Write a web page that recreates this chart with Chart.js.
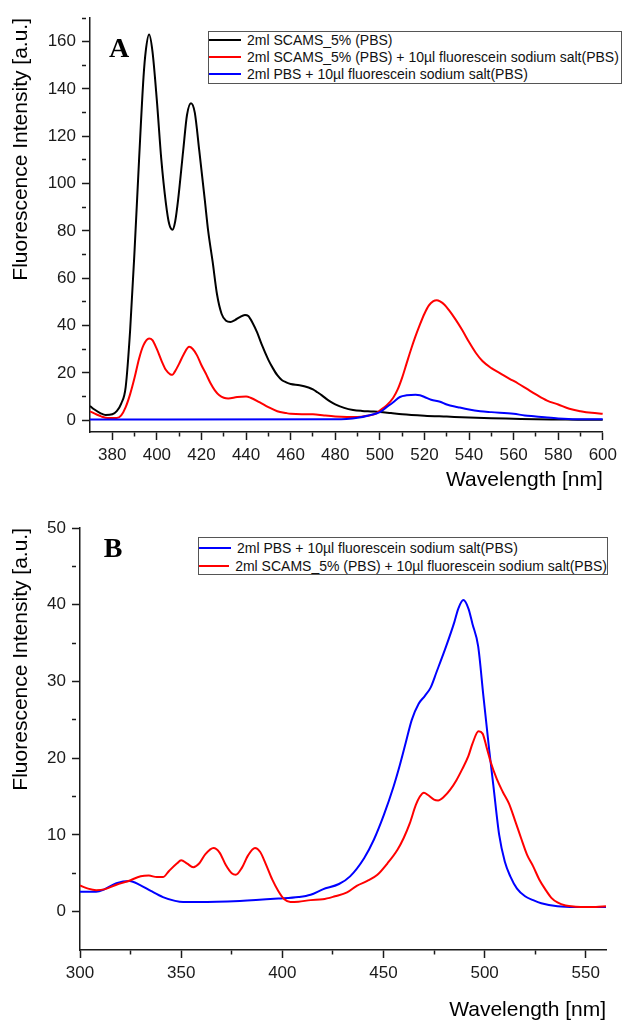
<!DOCTYPE html>
<html lang="en">
<head>
<meta charset="UTF-8">
<title>Fluorescence spectra</title>
<script src="https://cdn.jsdelivr.net/npm/chart.js"></script>
<style>
    body {
        margin: 0;
        background: #fff;
        font-family: Arial, "Liberation Sans", sans-serif;
    }
    .panel {
        position: absolute;
        left: 0;
        width: 622px;
    }
    #panelA { top: 0; height: 500px; }
    #panelB { top: 500px; height: 523px; }
    .legend {
        position: absolute;
        box-sizing: border-box;
        border: 1px solid #555;
        background: #fff;
        font-size: 14px;
        color: #111;
    }
    .legend .row {
        display: flex;
        align-items: center;
        white-space: nowrap;
    }
    .legend .swatch {
        display: inline-block;
        width: 32px;
        height: 2px;
        margin-right: 6px;
    }
    #legendA { left: 208px; top: 31px; width: 414px; height: 53px; padding-top: 0; }
    #legendA .row { height: 16.7px; }
    #legendB { left: 198px; top: 37px; width: 410px; height: 38px; padding-top: 1px; }
    #legendB .row { height: 18px; }
</style>
</head>
<body>

<div class="panel" id="panelA">
    <canvas id="chartA" width="622" height="500"></canvas>
    <div class="legend" id="legendA"></div>
</div>
<div class="panel" id="panelB">
    <canvas id="chartB" width="622" height="523"></canvas>
    <div class="legend" id="legendB"></div>
</div>

<script>
// ---------- panel A data ----------
const scamsWlA = [370,372,375,377,380,382,384,386,388,390,392,394,395,396.5,398,400,402,404,405.5,407,408.2,409.5,411.8,413.5,415.3,417,419,421.5,423,425,427,429,431,433,435,437,439.5,441,443,445,447,450,452,454,456,458,460,464,468,470,472,474,476,478,480,484,488,492,496,500,505,510,520,530,540,550,560,570,580,590,600];
const scamsIntA = [6,4.5,2.8,2.2,2.5,3.8,7,14,38,72,110,145,156,163,156,135,110,92,83,80.5,84,93,114,129,134,130,114,93,80,67,53,45,42,41.5,42.3,43.5,44.5,44,41,37,32,25.5,22,19,17,16,15.3,14.8,13.8,13,11.8,10.5,9,7.7,6.7,5.2,4.3,3.9,3.7,3.5,3,2.5,1.9,1.5,1.1,0.8,0.6,0.4,0.3,0.2,0.2];

const mixWlA = [370,373,375,378,382,384,386,388,390,392,394,396.5,398,400,402,404,406,407,408,410,412,414.5,416,418,420,422,424,426,428,430,432,436,440,442,446,450,454,458,460,465,470,475,480,490,495,498,500,503,506,508,510,512,514,516,518,520,522,524,525.5,527,529,531,534,537,540,543,546,550,554,558,562,566,570,575,580,585,590,595,600];
const mixIntA = [3.7,2.4,1.6,0.9,0.9,2,5.5,11,18,26,31.7,34.5,33.8,30,25.3,21.3,19.4,19.2,20.4,23.9,27.8,31,30.2,27.4,23.2,19.6,15.7,12.6,10.5,9.5,9.2,9.8,10,9.5,7.6,5.5,3.8,3,2.7,2.5,2.5,2,1.6,1.3,2,2.7,4.1,6.2,9.5,13,18,24,30,35.5,40.5,45,48.5,50.3,50.7,50.2,48.8,46.5,42.5,38,33,28.5,25,22,19.8,17.6,15.5,13.2,10.9,8.3,6.6,4.8,3.8,3.1,2.7];

const pbsWlA = [370,480,485,490,495,500,503,506,509,512,516,518,520,523,527,530,535,540,545,550,560,565,570,575,580,588,600];
const pbsIntA = [0.3,0.35,0.5,1,2,3.4,5.5,7.6,9.8,10.5,10.7,10.5,9.8,8.6,7.8,6.6,5.5,4.5,3.8,3.4,2.7,2,1.6,1.1,0.7,0.4,0.4];

const xMajorA = [380,400,420,440,460,480,500,520,540,560,580,600];
const xMinorA = [390,410,430,450,470,490,510,530,550,570,590];
const yMajorA = [0,20,40,60,80,100,120,140,160];
const yMinorA = [10,30,50,70,90,110,130,150,170];

// ---------- panel B data ----------
const pbsWlB = [300,308,312,318,324.5,329.5,335,341,347,351,359,379,398,408,414,420,428,433.5,440.5,445.3,450.2,455,458,461,464,467.4,470.4,473.3,476.2,481,485,487,489.5,492,494,496.8,499.4,502.3,504.3,507.2,510,512.7,516,520,524,528,536,545,560];
const pbsIntB = [2.6,2.6,2.9,3.7,4.0,3.5,2.7,1.9,1.4,1.25,1.25,1.4,1.7,1.9,2.2,2.9,3.6,4.6,7.0,9.4,12.6,16.3,19,22,25,27.1,28.1,29.2,31.2,34.6,37.7,39.5,40.6,39.5,37.5,34.6,28.1,21,16.5,10,6.5,4.6,3,2,1.5,1.1,0.7,0.6,0.6];

const mixWlB = [300,304,308,312,318,324,330,334,338,341,344,348,350,353,356,359,362,366,369,372,375,377,380,383,386.5,389,392,395,398,401,404,408,414,420,426,432,437,442,447,452,457,460,463,466,468,470,472,475,477,480,483,486,489,492,494,497,499,501,503,506,509,512,515,518,521,524,527,530,533,536,540,545,550,555,560];
const mixIntB = [3.4,3.0,2.8,2.9,3.5,4.0,4.6,4.7,4.5,4.5,5.3,6.3,6.7,6.25,5.8,6.3,7.5,8.3,7.7,6.1,5.0,4.8,5.7,7.3,8.3,7.8,6.1,4.2,2.7,1.6,1.25,1.3,1.5,1.6,2.0,2.5,3.4,4.0,4.8,6.3,8.1,9.6,11.5,13.9,15.0,15.5,15.2,14.6,14.5,15.0,15.9,17.1,18.6,20.3,21.9,23.5,23.2,21.4,19.5,17.3,15.6,14.1,11.9,9.6,7.4,5.9,4.2,2.9,1.8,1.2,0.8,0.65,0.6,0.6,0.7];

const xMajorB = [300,350,400,450,500,550];
const xMinorB = [325,375,425,475,525];
const yMajorB = [0,10,20,30,40,50];
const yMinorB = [5,15,25,35,45];

const labelScams = '2ml SCAMS_5% (PBS)';
const labelMix = '2ml SCAMS_5% (PBS) + 10\u00b5l fluorescein sodium salt(PBS)';
const labelPbs = '2ml PBS + 10\u00b5l fluorescein sodium salt(PBS)';

const BLACK = '#000000', RED = '#ff0000', BLUE = '#0000ff';
const TEXT = '#1a1a1a';

function points(xs, ys) {
    return xs.map((x, i) => ({ x: x, y: ys[i] }));
}

function series(label, xs, ys, color, order) {
    return {
        label: label,
        data: points(xs, ys),
        borderColor: color,
        backgroundColor: color,
        borderWidth: 2,
        pointRadius: 0,
        fill: false,
        cubicInterpolationMode: 'monotone',
        order: order
    };
}

// panel letter drawn at a data position
const panelLabel = {
    id: 'panelLabel',
    afterDraw(chart, args, opts) {
        const { ctx, scales } = chart;
        ctx.save();
        ctx.font = 'bold 28px "Liberation Serif", "Times New Roman", serif';
        ctx.fillStyle = '#000';
        ctx.textAlign = 'center';
        ctx.textBaseline = 'middle';
        ctx.fillText(opts.text, scales.x.getPixelForValue(opts.x), scales.y.getPixelForValue(opts.y));
        ctx.restore();
    }
};

function axis(opts) {
    const all = opts.major.concat(opts.minor).sort((a, b) => a - b);
    return {
        type: 'linear',
        min: opts.min,
        max: opts.max,
        afterFit: s => {
            if (opts.width) s.width = opts.width;
            if (opts.height) s.height = opts.height;
        },
        afterBuildTicks: s => { s.ticks = all.map(v => ({ value: v })); },
        ticks: {
            callback: v => opts.major.includes(v) ? String(v) : '',
            autoSkip: false,
            maxRotation: 0,
            font: { family: 'Arial, "Liberation Sans", sans-serif', size: 17 },
            color: TEXT,
            padding: opts.tickPad
        },
        grid: {
            drawOnChartArea: false,
            drawTicks: true,
            tickLength: 8,
            tickColor: TEXT,
            tickWidth: 1.5,
            tickBorderDash: c => (c.tick && opts.major.includes(c.tick.value)) ? [] : [4, 40]
        },
        border: { display: true, color: TEXT, width: 1.5 },
        title: {
            display: true,
            text: opts.title,
            align: 'end',
            color: '#000',
            font: { family: 'Arial, "Liberation Sans", sans-serif', size: 21 },
            padding: opts.titlePad
        }
    };
}

function makeChart(id, datasets, cfg) {
    return new Chart(document.getElementById(id), {
        type: 'line',
        data: { datasets: datasets },
        options: {
            responsive: false,
            animation: false,
            layout: { padding: cfg.padding },
            plugins: {
                legend: { display: false },
                tooltip: { enabled: false },
                panelLabel: cfg.letter
            },
            scales: { x: cfg.x, y: cfg.y }
        },
        plugins: [panelLabel]
    });
}

function buildLegend(id, datasets) {
    const box = document.getElementById(id);
    datasets.forEach(ds => {
        const row = document.createElement('div');
        row.className = 'row';
        row.innerHTML = '<span class="swatch" style="background:' + ds.borderColor + '"></span><span>' + ds.label + '</span>';
        box.appendChild(row);
    });
}

// ---------- chart A ----------
const dsA = [
    series(labelScams, scamsWlA, scamsIntA, BLACK, 3),
    series(labelMix, mixWlA, mixIntA, RED, 2),
    series(labelPbs, pbsWlA, pbsIntA, BLUE, 1)
];
makeChart('chartA', dsA, {
    padding: { top: 18, right: 19, left: 0, bottom: 0 },
    letter: { text: 'A', x: 383, y: 156.5 },
    x: axis({ min: 370, max: 600, major: xMajorA, minor: xMinorA, height: 68, tickPad: 5,
              title: 'Wavelength [nm]', titlePad: { top: 0, bottom: 7 } }),
    y: axis({ min: -5, max: 170, major: yMajorA, minor: yMinorA, width: 90, tickPad: 6,
              title: 'Fluorescence Intensity [a.u.]', titlePad: { top: 9, bottom: 0 } })
});
buildLegend('legendA', dsA);

// ---------- chart B ----------
const dsB = [
    series(labelPbs, pbsWlB, pbsIntB, BLUE, 2),
    series(labelMix, mixWlB, mixIntB, RED, 1)
];
makeChart('chartB', dsB, {
    padding: { top: 28, right: 16, left: 0, bottom: 0 },
    letter: { text: 'B', x: 316.3, y: 47.2 },
    x: axis({ min: 300, max: 560, major: xMajorB, minor: xMinorB, height: 73, tickPad: 5,
              title: 'Wavelength [nm]', titlePad: { top: 0, bottom: 0 } }),
    y: axis({ min: -5, max: 50, major: yMajorB, minor: yMinorB, width: 80, tickPad: 6,
              title: 'Fluorescence Intensity [a.u.]', titlePad: { top: 9, bottom: 0 } })
});
buildLegend('legendB', dsB);
</script>
</body>
</html>
